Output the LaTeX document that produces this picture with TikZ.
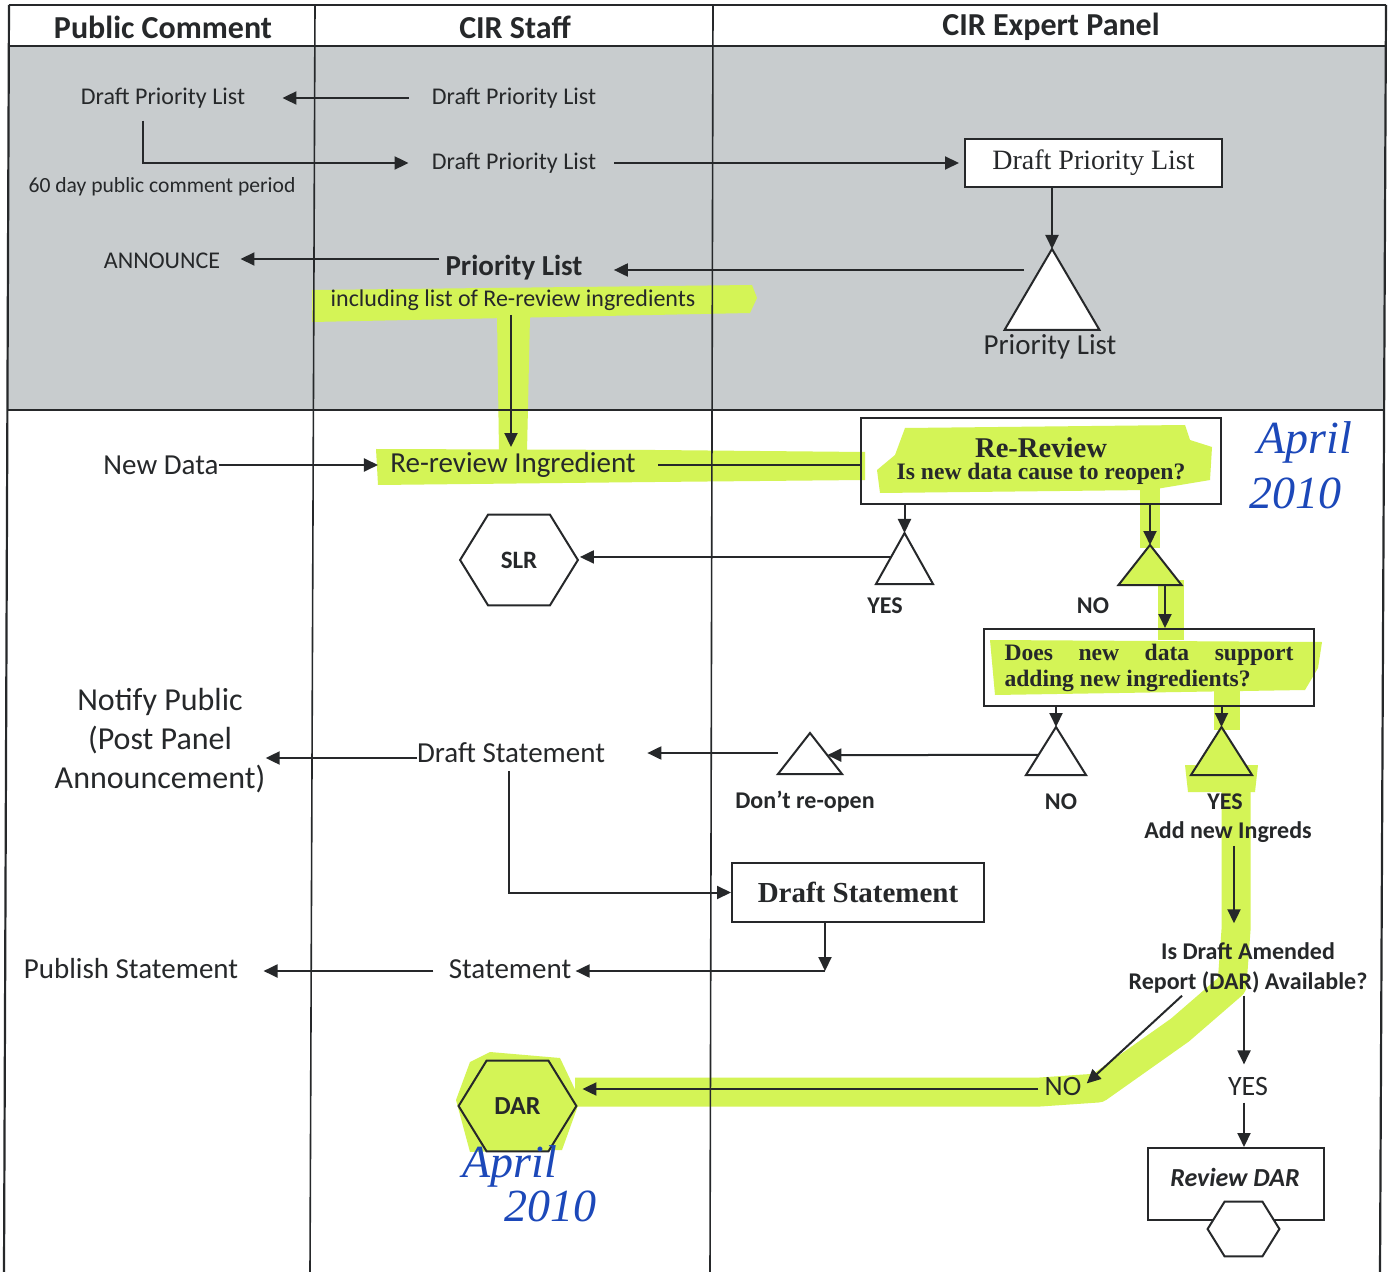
\documentclass[tikz,border=0pt]{standalone}
\usepackage{fontspec}
\setmainfont{Carlito}
\newfontfamily\sbx{Liberation Serif}
\usetikzlibrary{arrows.meta,calc}
\definecolor{ink}{RGB}{38,40,42}
\definecolor{panelgray}{RGB}{200,204,206}
\definecolor{hlime}{RGB}{212,244,86}
\definecolor{pen}{RGB}{28,72,185}
\pgfdeclarelayer{bg}\pgfdeclarelayer{hl}
\pgfsetlayers{bg,hl,main}
\newcommand\myfs[2]{\fontsize{#1}{#2}\selectfont}
\newcommand\drawtri[2]{\draw[ln,fill=#2,line join=miter] (#1.north) -- (#1.south west) -- (#1.south east) -- cycle;}
\newcommand\drawhex[3]{\draw[ln,#3] (#1.west) -- ($(#1.north west)+(#2,0)$) -- ($(#1.north east)+(-#2,0)$) -- (#1.east) -- ($(#1.south east)+(-#2,0)$) -- ($(#1.south west)+(#2,0)$) -- cycle;}
\begin{document}
\begin{tikzpicture}[x=0.5pt,y=-0.5pt,
  lbl/.style={inner sep=0pt,text=ink,font=\myfs{12}{14}},
  lblL/.style={inner sep=0pt,text=ink,font=\myfs{14.5}{17}},
  lblB/.style={inner sep=0pt,text=ink,font=\bfseries\myfs{12}{15}},
  hdr/.style={inner sep=0pt,text=ink,font=\bfseries\myfs{16}{19}},
  hw/.style={inner sep=0pt,text=pen,font=\sbx\itshape\myfs{23}{25}},
  ln/.style={draw=ink,line width=1pt},
  arr/.style={draw=ink,line width=1pt,-{Triangle[length=7pt,width=6.5pt]}},
  pbox/.style={draw=ink,line width=1pt,inner sep=0pt,text=ink},
  tbox/.style 2 args={inner sep=0pt,outer sep=0pt,minimum width=#1,minimum height=#2},
  frame/.style={draw=ink,line width=1.1pt},
  divl/.style={draw=ink,line width=0.8pt},
  hlc/.style={fill=hlime,draw=none}]
\useasboundingbox (0,0) rectangle (1391,1272);
\begin{pgfonlayer}{bg}
\fill[white] (0,0) rectangle (1391,1272);
\fill[panelgray] (9,46) -- (1386,46) -- (1384,410) -- (7,410) -- cycle;
\end{pgfonlayer}
% frame
\draw[frame] (9,5) -- (1386,5);
\draw[frame] (9,5) -- (4,1272);
\draw[frame] (1386,5) -- (1380,1272);
\draw[frame] (9,46) -- (1386,46);
\draw[frame] (7,410) -- (1384,410);
\draw[divl] (315,5) -- (310,1272);
\draw[divl] (713,5) -- (710,1272);
% headers
\node[hdr] (hpc) at (163,27) {Public Comment};
\node[hdr] (hst) at (515,27) {CIR Staff};
\node[hdr] (hep) at (1051,27) {CIR Expert Panel};
% grey area
\node[lbl] (pc1) at (163,98) {Draft Priority List};
\node[lbl] (st1) at (514,98) {Draft Priority List};
\node[lbl] (st2) at (514,163) {Draft Priority List};
\node[lbl,font=\myfs{10.8}{13}] (per) at (162,187) {60 day public comment period};
\node[pbox,fill=white,minimum width=128.5pt,minimum height=24pt,font=\sbx\myfs{14}{16}] (ep1) at (1093.5,163) {Draft Priority List};
\node[tbox={47.5pt}{40.5pt}] (tri1) at (1052,289.5) {};
\drawtri{tri1}{white}
\node[lblL] (pl) at (1050,347) {Priority List};
\node[lblL,font=\bfseries\myfs{14.5}{17}] (stpl) at (514,268) {Priority List};
\node[lbl] (incl) at (513,300) {including list of Re-review ingredients};
\node[lbl] (ann) at (162,261) {ANNOUNCE};
\draw[arr] ($(st1.west)+(-23,0)$) -- ($(pc1.east)+(37,0)$);
\coordinate (c2) at ($(pc1.south)+(-20,12)$);
\draw[arr] (c2) |- ($(st2.west)+(-23,0)$);
\draw[arr] ($(st2.east)+(18,0)$) -- ($(ep1.west)+(-5,0)$);
\draw[arr] (ep1.south -| tri1.north) -- (tri1.north);
\draw[arr] ($(tri1.north)+(-28,21)$) -- ($(stpl.east)+(31,2)$);
\draw[arr] ($(stpl.west)+(-6,-9)$) -- ($(ann.east)+(20,-2)$);
% lower area
\node[lblL] (nd) at (161,465) {New Data};
\node[lblL] (rri) at (513,465) {Re-review Ingredient};
\draw[arr] ($(incl.south)+(-2,4)$) -- ($(rri.north)+(-2,-5)$);
\draw[arr] (nd.east) -- ($(rri.west)+(-12,0)$);
\node[pbox,minimum width=180pt,minimum height=43pt,align=center,font=\sbx\bfseries] (box1) at (1041,461)
  {{\myfs{14.3}{17}Re-Review}\\[-1pt]{\myfs{11.8}{14}Is new data cause to reopen?}};
\draw[ln] ($(rri.east)+(22,0)$) -- (box1.west |- rri.east);
\node[tbox={28.5pt}{25.5pt}] (triY1) at (904.5,558.5) {};
\drawtri{triY1}{white}
\node[tbox={31.5pt}{20pt}] (triN1) at (1150,565) {};
\node[lblB] (yes1) at (885,606) {YES};
\node[lblB] (no1) at (1093,606) {NO};
\node[inner sep=0pt,minimum width=58.5pt,minimum height=45pt,text=ink,font=\bfseries\myfs{12.5}{15}] (slr) at (519,560) {SLR};
\drawhex{slr}{28}{fill=none}
\node[pbox,minimum width=165pt,minimum height=38.5pt,align=left,font=\sbx\bfseries\myfs{11.8}{13}] (box2) at (1149,667.5)
  {\hbox to 144.5pt{Does\hfill new\hfill data\hfill support}\\adding new ingredients?};
\node[tbox={30pt}{24pt}] (triN2) at (1056,751) {};
\drawtri{triN2}{white}
\node[tbox={30.5pt}{24pt}] (triY2) at (1221.5,751) {};
\node[tbox={32pt}{20.5pt}] (triD) at (810,753.5) {};
\drawtri{triD}{white}
\node[lblB] (no2) at (1061,802) {NO};
\node[lblB] (yes2) at (1225,802) {YES};
\node[lblB] (dont) at (805,802) {Don’t re-open};
\node[lblB] (addn) at (1228,832) {Add new Ingreds};
\node[lblL] (dst) at (511,753) {Draft Statement};
\node[inner sep=0pt,text=ink,align=center,font=\myfs{16}{19.5}] (np) at (160,741) {Notify Public\\(Post Panel\\Announcement)};
\node[pbox,minimum width=126pt,minimum height=29.5pt,font=\sbx\bfseries\myfs{14.5}{17}] (box3) at (858,892.5) {Draft Statement};
\node[lblL] (stmt) at (510,969) {Statement};
\node[lblL] (pub) at (131,969) {Publish Statement};
\node[lblB,align=center,font=\bfseries\myfs{12}{15}] (dq) at (1248,968) {Is Draft Amended\\Report (DAR) Available?};
\node[lbl,font=\myfs{14}{16}] (no3) at (1063,1087) {NO};
\node[lbl,font=\myfs{14}{16}] (yes3) at (1248,1087) {YES};
\node[inner sep=0pt,minimum width=58.5pt,minimum height=45pt,text=ink,font=\bfseries\myfs{13}{15}] (darhex) at (517.5,1106) {DAR};
\node[pbox,minimum width=88pt,minimum height=36pt] (rdar) at (1236,1184) {};
\node[inner sep=0pt,text=ink,font=\bfseries\itshape\myfs{13}{15}] (rdartxt) at (1235,1177) {Review DAR};
\node[inner sep=0pt,minimum width=35.5pt,minimum height=27pt] (rhex) at (1243.5,1229) {};
\drawhex{rhex}{17}{fill=white}
% handwriting
\node[hw] (apr1) at (1305,442) {April};
\node[hw] (yr1) at (1295,493) {2010};
\node[hw] (apr2) at (510,1166) {April};
\node[hw] (yr2) at (550,1206) {2010};
% highlights
\begin{pgfonlayer}{hl}
\fill[hlc] (312,290) -- (752,285) -- (757,298) -- (750,313) -- (312,322) -- cycle;
\fill[hlc] (497,316) -- (530,316) -- (527,452) -- (499,452) -- cycle;
\fill[hlc] (376,449) -- (655,450) -- (865,452) -- (865,480) -- (655,482) -- (378,485) -- cycle;
\fill[hlc] (905,428) -- (1185,425) -- (1190,440) -- (1212,447) -- (1210,480) -- (1150,490) -- (880,493) -- (877,470) -- (895,455) -- cycle;
\fill[hlc] (1140,488) -- (1160,488) -- (1160,548) -- (1140,548) -- cycle;
\fill[hlc] (1158,580) -- (1184,580) -- (1184,640) -- (1158,640) -- cycle;
\fill[hlc] (990,640) -- (1322,642) -- (1318,668) -- (1305,690) -- (995,695) -- cycle;
\fill[hlc] (1214,690) -- (1240,690) -- (1240,730) -- (1214,730) -- cycle;
\fill[hlc] (1185,765) -- (1258,765) -- (1255,792) -- (1188,792) -- cycle;
\draw[hlime,line width=14.5pt,line join=round] (1236,780) -- (1236,930) -- (1232,985) -- (1180,1030) -- (1098,1088) -- (1040,1092) -- (575,1092);
\fill[hlc] (470,1062) -- (490,1052) -- (560,1058) -- (580,1100) -- (562,1150) -- (470,1152) -- (456,1100) -- cycle;
\drawhex{darhex}{28}{fill=hlime}
\end{pgfonlayer}
\drawtri{triN1}{hlime}
\drawtri{triY2}{hlime}
% connectors lower
\draw[arr] (box1.south -| triY1.north) -- (triY1.north);
\coordinate (y1s) at ($(triY1.north)!0.47!(triY1.south west)$);
\draw[arr] (y1s) -- ($(y1s -| slr.east)+(2,0)$);
\draw[arr] (box1.south -| triN1.north) -- (triN1.north);
\coordinate (n1b) at ($(triN1.south)+(15,0)$);
\draw[arr] (n1b) -- (n1b |- box2.north);
\draw[arr] (box2.south -| triN2.north) -- (triN2.north);
\draw[arr] (box2.south -| triY2.north) -- (triY2.north);
\coordinate (n2s) at ($(triN2.north)!0.58!(triN2.south west)$);
\coordinate (dE) at ($(triD.north)!0.54!(triD.south east)$);
\draw[arr] (n2s) -- (dE);
\draw[arr] (triD.south west |- dst.east) -- ($(dst.east)+(42,0)$);
\draw[arr] ($(dst.west)+(0,5)$) -- ($(np.east |- dst.west)+(0,5)$);
\draw[arr] ($(dst.south)+(-2,8)$) |- (box3.west);
\coordinate (sc) at (825,971);
\draw[arr] (sc |- box3.south) -- (sc);
\draw[arr] (sc) -- ($(stmt.east)+(4,2)$);
\draw[arr] ($(stmt.west)+(-15,2)$) -- ($(pub.east)+(25,2)$);
\draw[arr] ($(addn.south)+(6,3)$) -- ($(addn.south |- dq.north)+(6,-19)$);
\draw[arr] ($(dq.south)+(-66,2)$) -- ($(no3.north east)+(5,6)$);
\draw[arr] ($(no3.west)+(-6,2)$) -- ($(no3.west -| darhex.east)+(6,2)$);
\draw[arr] ($(dq.south)+(-4,2)$) -- ($(yes3.north)+(-4,-13)$);
\draw[arr] ($(yes3.south)+(-4,6)$) -- ($(yes3.south |- rdar.north)+(-4,0)$);
\end{tikzpicture}
\end{document}
